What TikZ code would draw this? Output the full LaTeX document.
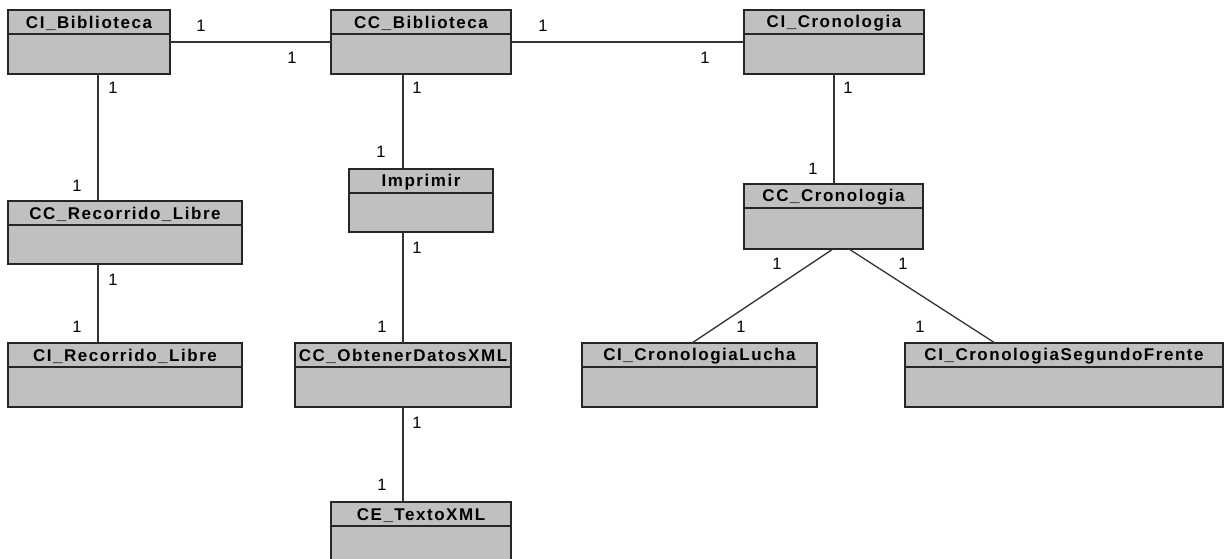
\documentclass[tikz,border=0pt]{standalone}
\usepackage{fontspec}
\setmainfont{Liberation Sans}
\newfontfamily\titlefont[LetterSpace=9]{Liberation Sans Bold}
\begin{document}
\begin{tikzpicture}[x=1pt,y=-1pt,
  clsbox/.style={draw=black!85, line width=1.6pt, fill=boxgray, rectangle,
    inner sep=0pt, outer sep=0pt},
  divider/.style={draw=black!85, line width=1.6pt},
  clstitle/.style={font=\titlefont\fontsize{17}{19}\selectfont, inner sep=0pt},
  assoc/.style={draw=black!80, line width=1.3pt},
  mult/.style={font=\fontsize{16.5}{18}\selectfont, inner sep=0pt}]
\definecolor{boxgray}{HTML}{C0C0C0}
\clip (0,0) rectangle (1225,559);
\fill[white] (0,0) rectangle (1225,559);

% class box: name, left, top, right, bottom, title
\newcommand{\umlclass}[6]{%
  \node[clsbox, anchor=north west, minimum width={(#4-#2)*1pt},
        minimum height={(#5-#3)*1pt}] (#1) at (#2,#3) {};
  \draw[divider] ([yshift=-24pt]#1.north west) -- ([yshift=-24pt]#1.north east);
  \node[clstitle] (#1-t) at ([yshift=-13.5pt]#1.north) {#6};}

\umlclass{cib}{8}{10}{170}{74}{CI\_Biblioteca}
\umlclass{ccb}{331}{10}{511}{74}{CC\_Biblioteca}
\umlclass{cic}{744}{10}{924}{74}{CI\_Cronologia}
\umlclass{ccrl}{8}{201}{242}{264}{CC\_Recorrido\_Libre}
\umlclass{cirl}{8}{343}{242}{407}{CI\_Recorrido\_Libre}
\umlclass{imp}{349}{169}{493}{232}{Imprimir}
\umlclass{ccod}{295}{343}{511}{407}{CC\_ObtenerDatosXML}
\umlclass{cetx}{331}{502}{511}{580}{CE\_TextoXML}
\umlclass{ccc}{744}{184}{923}{249}{CC\_Cronologia}
\umlclass{cicl}{582}{343}{817}{407}{CI\_CronologiaLucha}
\umlclass{cisf}{905}{343}{1223}{407}{CI\_CronologiaSegundoFrente}

% associations
\draw[assoc] (cib.east) -- (ccb.west);
\draw[assoc] (ccb.east) -- (cic.west);
\draw[assoc] (cib.south -| 98,0) -- (ccrl.north -| 98,0);
\draw[assoc] (ccrl.south -| 98,0) -- (cirl.north -| 98,0);
\draw[assoc] (ccb.south -| 403,0) -- (imp.north -| 403,0);
\draw[assoc] (imp.south -| 403,0) -- (ccod.north -| 403,0);
\draw[assoc] (ccod.south -| 403,0) -- (cetx.north -| 403,0);
\draw[assoc] (cic.south -| 834,0) -- (ccc.north -| 834,0);
\draw[assoc] (ccc.south -| 833,0) -- (cicl.north -| 692,0);
\draw[assoc] (ccc.south -| 849,0) -- (cisf.north -| 995,0);

% multiplicities
\foreach \px/\py [count=\i] in {201/26, 292/58, 543/26, 705/58,
    113/88, 77/186, 113/280, 77/327,
    417/88, 381/152, 417/248, 382/327, 417/423, 382/485,
    848/88, 813/169, 777/264, 903/264, 741/327, 920/327}
  \node[mult] (m\i) at (\px,\py) {1};
\end{tikzpicture}
\end{document}
